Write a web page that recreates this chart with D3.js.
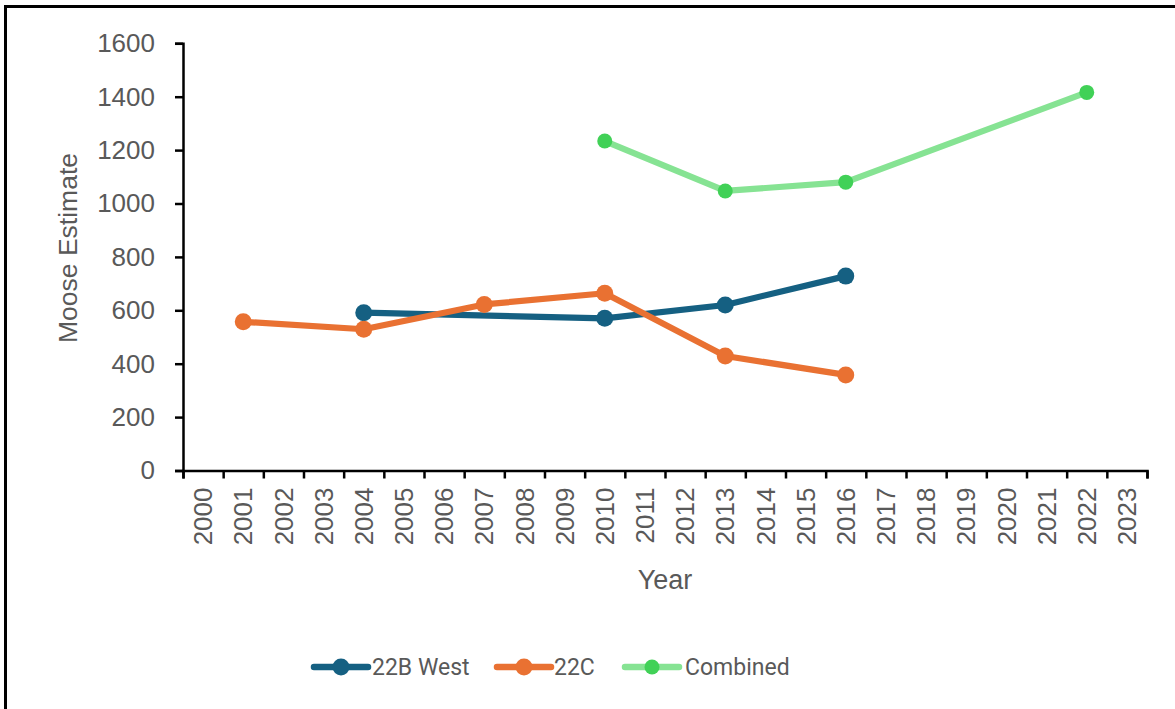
<!DOCTYPE html>
<html>
<head>
<meta charset="utf-8">
<script src="https://cdn.jsdelivr.net/npm/d3@7"></script>
<style>
  html, body { margin: 0; padding: 0; background: #fff; }
  svg { display: block; }
  text { font-family: "Liberation Sans", Arial, sans-serif; }
</style>
</head>
<body>
<svg id="chart" width="1175" height="709"></svg>
<script>
// ---- data ----
const categories = ["2000","2001","2002","2003","2004","2005","2006","2007","2008","2009","2010","2011",
                    "2012","2013","2014","2015","2016","2017","2018","2019","2020","2021","2022","2023"];
const yTicks = [0, 200, 400, 600, 800, 1000, 1200, 1400, 1600];

const west22BYears = ["2004", "2010", "2013", "2016"];
const west22BValues = [591, 570, 620, 728];

const c22Years = ["2001", "2004", "2007", "2010", "2013", "2016"];
const c22Values = [557, 529, 622, 664, 429, 358];

const combinedYears = ["2010", "2013", "2016", "2022"];
const combinedValues = [1234, 1047, 1080, 1416];

const seriesNames = ["22B West", "22C", "Combined"];

// ---- layout / styles ----
const svg = d3.select("#chart");
const plotLeft = 183, plotRight = 1147, plotTop = 43.3, plotBottom = 470.5;
const tickColor = "#595959";

svg.append("rect").attr("x", 5.5).attr("y", 6.5).attr("width", 1200).attr("height", 800)
  .attr("fill", "none").attr("stroke", "#000").attr("stroke-width", 3);

const x = d3.scaleBand().domain(categories).range([plotLeft, plotRight]).padding(0);
const xEdge = d3.scaleLinear().domain([0, categories.length]).range([plotLeft, plotRight]);
const y = d3.scaleLinear().domain([0, 1600]).range([plotBottom, plotTop]);

// y axis
const yAxis = svg.append("g").attr("transform", `translate(${plotLeft},0)`)
  .call(d3.axisLeft(y).tickValues(yTicks).tickSize(8).tickPadding(20).tickFormat(d3.format("d")));
yAxis.select(".domain").attr("stroke", "#000").attr("stroke-width", 2.5);
yAxis.selectAll(".tick line").attr("stroke", "#000").attr("stroke-width", 2.5);
yAxis.selectAll(".tick text").attr("fill", tickColor).style("font-size", "26px")
  .style("font-family", "Liberation Sans, Arial, sans-serif");

// x axis: tick marks at category edges
const xTickG = svg.append("g").attr("transform", `translate(0,${plotBottom})`)
  .call(d3.axisBottom(xEdge).tickValues(d3.range(0, categories.length + 1)).tickSize(8).tickFormat(""));
xTickG.select(".domain").attr("stroke", "#000").attr("stroke-width", 2.5);
xTickG.selectAll(".tick line").attr("stroke", "#000").attr("stroke-width", 2.5);

// x axis labels at category centers
const xLab = svg.append("g").attr("transform", `translate(0,${plotBottom})`)
  .call(d3.axisBottom(x).tickSize(0).tickPadding(0));
xLab.select(".domain").remove();
xLab.selectAll(".tick text")
  .attr("fill", tickColor).style("font-size", "26px")
  .style("font-family", "Liberation Sans, Arial, sans-serif")
  .attr("transform", "rotate(-90)")
  .attr("text-anchor", "end")
  .attr("x", -17).attr("y", 0).attr("dy", "0.35em");

// axis titles
svg.append("text").attr("x", 665).attr("y", 589).attr("text-anchor", "middle")
  .attr("fill", tickColor).style("font-size", "27px").text("Year");
svg.append("text").attr("transform", `translate(77,248) rotate(-90)`)
  .attr("text-anchor", "middle").attr("fill", tickColor).style("font-size", "26.5px").text("Moose Estimate");

// series
const series = [
  { name: seriesNames[0], years: west22BYears, values: west22BValues, line: "#156082", marker: "#156082", r: 8.5 },
  { name: seriesNames[1], years: c22Years, values: c22Values, line: "#E97132", marker: "#E97132", r: 8.5 },
  { name: seriesNames[2], years: combinedYears, values: combinedValues, line: "#86E393", marker: "#41D157", r: 7.5 }
];

const line = d3.line().x(d => x(d.year) + x.bandwidth() / 2).y(d => y(d.value));

series.forEach(s => {
  const pts = s.years.map((yr, i) => ({ year: yr, value: s.values[i] }));
  const g = svg.append("g");
  g.append("path").datum(pts).attr("d", line).attr("fill", "none")
    .attr("stroke", s.line).attr("stroke-width", 6.2).attr("stroke-linejoin", "round").attr("stroke-linecap", "round");
  g.selectAll("circle").data(pts).join("circle")
    .attr("cx", d => x(d.year) + x.bandwidth() / 2).attr("cy", d => y(d.value))
    .attr("r", s.r).attr("fill", s.marker);
});

// legend
const legendItems = [
  { s: series[0], x0: 314, x1: 368, tx: 372 },
  { s: series[1], x0: 497, x1: 551, tx: 554 },
  { s: series[2], x0: 625, x1: 679, tx: 685 }
];
const ly = 667;
legendItems.forEach(it => {
  const g = svg.append("g");
  g.append("line").attr("x1", it.x0).attr("x2", it.x1).attr("y1", ly).attr("y2", ly)
    .attr("stroke", it.s.line).attr("stroke-width", 6.5).attr("stroke-linecap", "round");
  g.append("circle").attr("cx", (it.x0 + it.x1) / 2).attr("cy", ly).attr("r", it.s.r).attr("fill", it.s.marker);
  g.append("text").attr("x", it.tx).attr("y", ly).attr("dy", "0.36em").attr("fill", tickColor)
    .style("font-size", "23px").style("font-family", "Roboto, sans-serif").text(it.s.name);
});
</script>
</body>
</html>
